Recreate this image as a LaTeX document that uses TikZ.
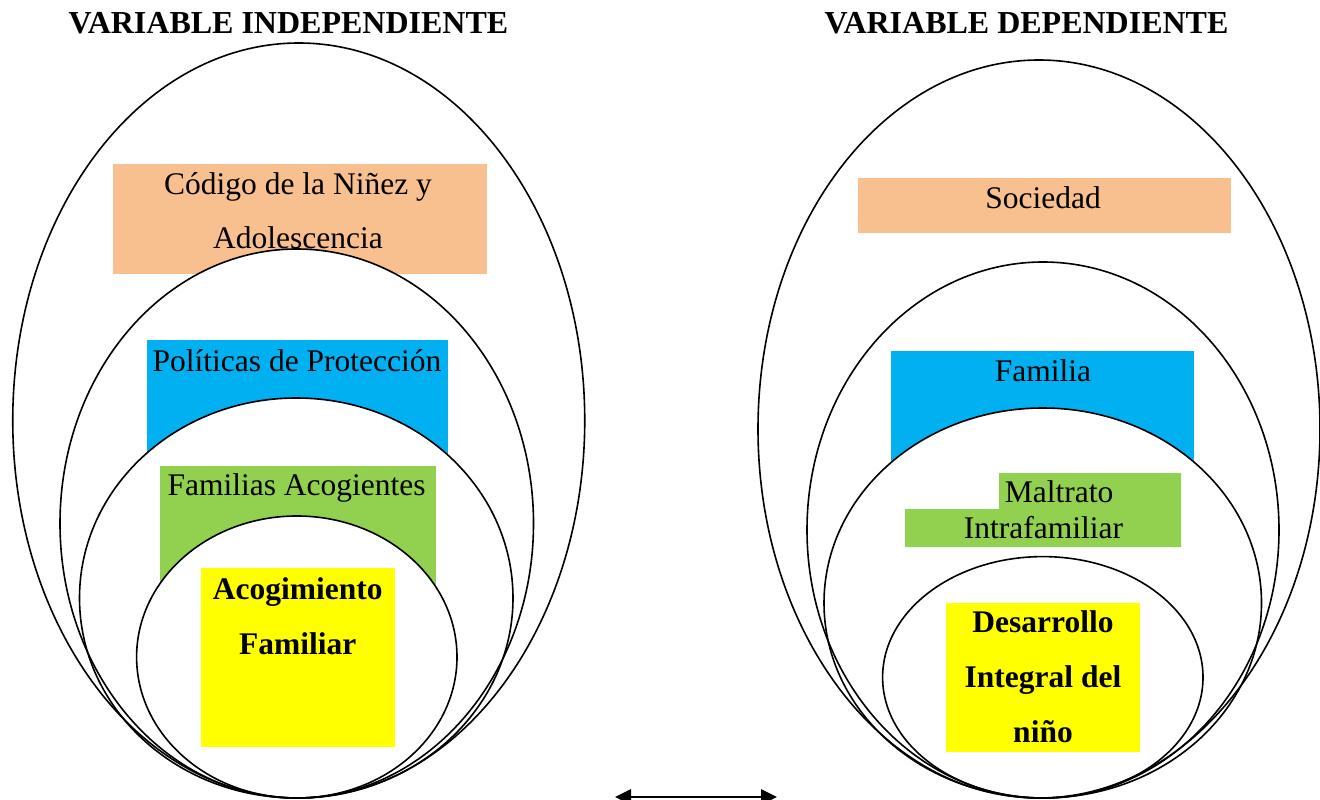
\documentclass[tikz,border=0pt]{standalone}
\usepackage{fontspec}
\setmainfont{Liberation Serif}
\usetikzlibrary{arrows.meta}
\definecolor{orangebox}{HTML}{F8BF8F}
\definecolor{bluebox}{HTML}{00B0F0}
\definecolor{greenbox}{HTML}{92D050}
\definecolor{yellowbox}{HTML}{FFFF00}
\begin{document}
\begin{tikzpicture}[x=1pt,y=-1pt,
  ring/.style={draw=black,line width=1.6pt},
  ringfill/.style={fill=white},
  lbl/.style={font=\fontsize{31.5}{54}\selectfont,inner sep=0pt,anchor=base,align=center},
  blbl/.style={font=\bfseries\fontsize{31.5}{55}\selectfont,inner sep=0pt,anchor=base,align=center},
  ttl/.style={font=\bfseries\fontsize{32}{38}\selectfont,inner sep=0pt,anchor=base}]
\useasboundingbox (0,0) rectangle (1320,800);
% ---------------- left group ----------------
\fill[ringfill] (298.75,420.5) ellipse [x radius=286, y radius=377.5];
\fill[orangebox] (113,164) rectangle (487,274);
\fill[ringfill] (296.75,523.5) ellipse [x radius=236.75, y radius=274.5];
\fill[bluebox] (146.5,340) rectangle (448,480);
\fill[ringfill] (296.25,598) ellipse [x radius=216.75, y radius=200];
\fill[greenbox] (159.5,466) rectangle (436,600);
\fill[ringfill] (296.8,657) ellipse [x radius=160.2, y radius=141];
\fill[yellowbox] (200.5,568) rectangle (395,746.5);
\draw[ring] (298.75,420.5) ellipse [x radius=286, y radius=377.5];
\draw[ring] (296.75,523.5) ellipse [x radius=236.75, y radius=274.5];
\draw[ring] (296.25,598) ellipse [x radius=216.75, y radius=200];
\draw[ring] (296.8,657) ellipse [x radius=160.2, y radius=141];
% ---------------- right group ----------------
\fill[ringfill] (1039,429) ellipse [x radius=281, y radius=369];
\fill[orangebox] (858,178) rectangle (1231,233);
\fill[ringfill] (1043,530) ellipse [x radius=236, y radius=268];
\fill[bluebox] (891,351) rectangle (1194,480);
\fill[ringfill] (1042.75,603) ellipse [x radius=218.75, y radius=195];
\fill[greenbox] (999,473) -- (1181,473) -- (1181,547) -- (905,547) -- (905,509) -- (999,509) -- cycle;
\fill[ringfill] (1042.8,677.3) ellipse [x radius=160.2, y radius=120.7];
\fill[yellowbox] (946,603) rectangle (1140,752);
\draw[ring] (1039,429) ellipse [x radius=281, y radius=369];
\draw[ring] (1043,530) ellipse [x radius=236, y radius=268];
\draw[ring] (1042.75,603) ellipse [x radius=218.75, y radius=195];
\draw[ring] (1042.8,677.3) ellipse [x radius=160.2, y radius=120.7];
% ---------------- texts (base = baseline of last line) ----------------
\node[ttl] (t1) at (288.5,33.3) {VARIABLE INDEPENDIENTE};
\node[ttl] (t2) at (1026.5,33.3) {VARIABLE DEPENDIENTE};
\node[lbl] (cod) at (298,248.3) {Código de la Niñez y\\Adolescencia};
\node[lbl] (pol) at (297,371) {Políticas de Protección};
\node[lbl] (fac) at (296.6,495.7) {Familias Acogientes};
\node[blbl] (aco) at (297.75,654) {Acogimiento\\Familiar};
\node[lbl] (soc) at (1043,208) {Sociedad};
\node[lbl] (fami) at (1043,381) {Familia};
\node[lbl,font=\fontsize{31.5}{35.3}\selectfont] (mal) at (1043.5,538) {\hspace*{31pt}Maltrato\\Intrafamiliar};
\node[blbl] (des) at (1043,742) {Desarrollo\\Integral del\\niño};
% ---------------- arrow ----------------
\coordinate (aL) at (615,797);
\coordinate (aR) at (777,797);
\draw[line width=2.8pt,{Triangle[length=16pt,width=15pt]}-{Triangle[length=16pt,width=15pt]}] (aL) -- (aR);
\end{tikzpicture}
\end{document}
